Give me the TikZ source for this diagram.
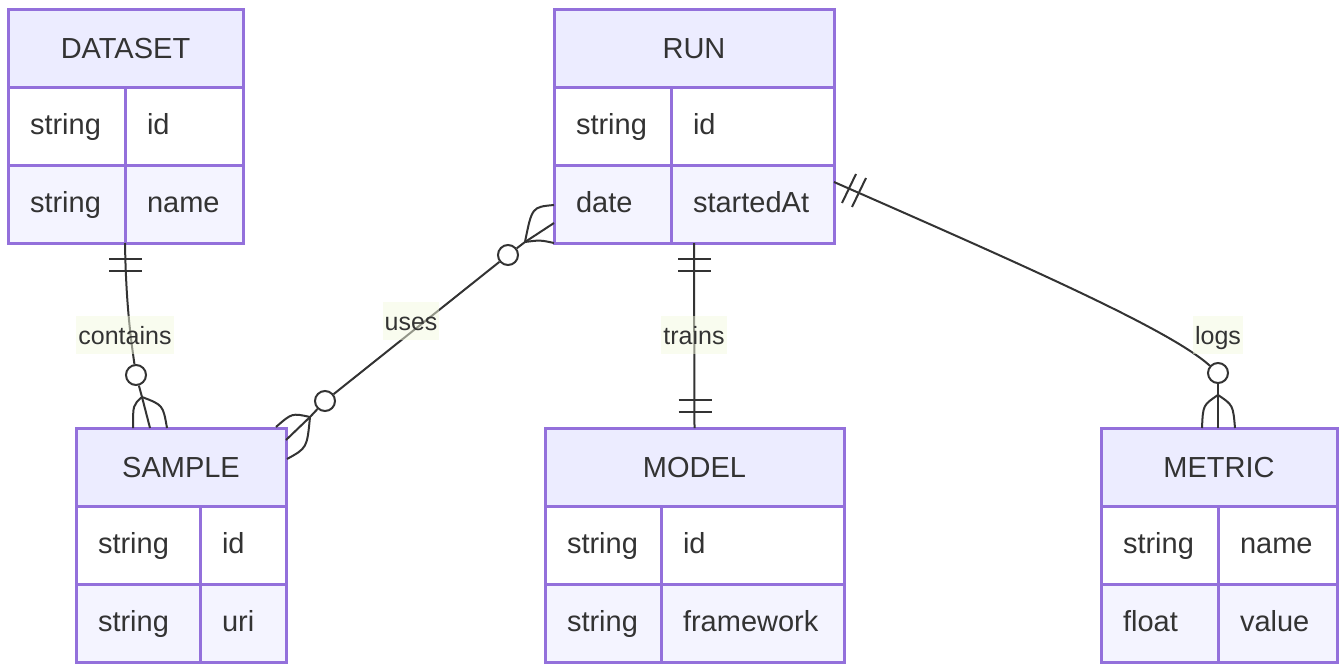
\documentclass[tikz,border=0pt]{standalone}
\usepackage{fontspec}
\setmainfont{Liberation Sans}
\usetikzlibrary{calc,positioning}
\definecolor{erborder}{HTML}{9370DB}
\definecolor{headbg}{HTML}{ECECFF}
\definecolor{roweven}{HTML}{F4F4FF}
\definecolor{inkgray}{HTML}{333333}
\definecolor{lblbg}{HTML}{F4FAE0}
\tikzset{
  erhead/.style={draw=erborder,line width=3pt,fill=headbg,anchor=north west,outer sep=0pt,
    minimum height=78pt,inner sep=0pt,text=inkgray,font=\fontsize{29}{35}\selectfont,
    text height=20pt,text depth=0pt},
  ercell/.style={draw=erborder,line width=3pt,anchor=north west,outer sep=0pt,
    minimum height=78pt,inner xsep=22pt,inner ysep=0pt,align=left,text=inkgray,
    font=\fontsize{29}{35}\selectfont,text height=20pt,text depth=4pt},
  erline/.style={draw=inkgray,line width=2pt},
  ercirc/.style={circle,draw=inkgray,line width=2pt,fill=white,minimum size=20pt,inner sep=0pt},
  erlabel/.style={fill=lblbg,fill opacity=0.5,text opacity=1,text=inkgray,inner xsep=2pt,
    minimum height=38pt,font=\fontsize{25}{30}\selectfont,text height=18pt,text depth=0pt}
}
% one entity: name, corner, type width, name width, title, two attribute rows
\newcommand{\erentity}[9]{%
  \pgfmathsetmacro\ertw{#3-44}\pgfmathsetmacro\ernw{#4-44}\pgfmathsetmacro\erall{#3+#4}%
  \node[erhead,minimum width=\erall pt] (#1) at (#2) {#5};
  \node[ercell,fill=white,text width=\ertw pt] (#1-t1) at (#1.south west) {#6};
  \node[ercell,fill=white,text width=\ernw pt] (#1-n1) at (#1-t1.north east) {#7};
  \node[ercell,fill=roweven,text width=\ertw pt] (#1-t2) at (#1-t1.south west) {#8};
  \node[ercell,fill=roweven,text width=\ernw pt] (#1-n2) at (#1-t2.north east) {#9};
}

\begin{document}
\begin{tikzpicture}[x=1pt,y=-1pt]
\useasboundingbox (0,0) rectangle (1341,664);
% entities
\erentity{dataset}{8,9}{117}{118}{DATASET}{string}{id}{string}{name}
\erentity{run}{554,9}{117}{163}{RUN}{string}{id}{date}{startedAt}
\erentity{sample}{76,428}{124}{86}{SAMPLE}{string}{id}{string}{uri}
\erentity{model}{545,428}{116}{183}{MODEL}{string}{id}{string}{framework}
\erentity{metric}{1101,428}{117}{119}{METRIC}{string}{name}{float}{value}

% DATASET contains SAMPLE
\coordinate (contains-v) at (142,397);
\node[ercirc] (contains-o) at (136,375) {};
\draw[erline] (dataset-t2.south east) .. controls (126,305) and (131,340) .. (contains-o);
\draw[erline] ($(dataset-t2.south east)+(-16,16)$) -- +(33,0);
\draw[erline] ($(dataset-t2.south east)+(-16,28)$) -- +(33,0);
\draw[erline] (contains-o) -- (contains-v) -- ($(sample.north west)+(74,0)$);
\draw[erline] (contains-v) .. controls (133,405) .. ($(sample.north west)+(57,0)$);
\draw[erline] (contains-v) .. controls (163,405) .. ($(sample.north west)+(91,0)$);

% RUN uses SAMPLE
\coordinate (uses-rv) at (525,242);
\coordinate (uses-sv) at (310,417);
\node[ercirc] (uses-ro) at (508,255) {};
\node[ercirc] (uses-so) at (325,401) {};
\draw[erline] ($(run-t2.north west)+(0,58)$) -- (uses-rv) -- (uses-ro);
\draw[erline] (uses-rv) .. controls (532,207) .. ($(run-t2.north west)+(0,40)$);
\draw[erline] (uses-rv) .. controls (540,240) .. (run-t2.south west);
\draw[erline] (uses-ro) -- (uses-so);
\draw[erline] (uses-so) -- (uses-sv) -- ($(sample.north east)+(0,12)$);
\draw[erline] (uses-sv) .. controls (292,413) .. ($(sample.north east)+(-10,-1)$);
\draw[erline] (uses-sv) .. controls (307,448) .. ($(sample.north east)+(1,31)$);

% RUN trains MODEL
\coordinate (trains-a) at ($(run-t2.south west)!0.5!(run-n2.south east)$);
\draw[erline] (trains-a) -- (model.north);
\draw[erline] ($(trains-a)+(-16,16)$) -- +(33,0);
\draw[erline] ($(trains-a)+(-16,28)$) -- +(33,0);
\draw[erline] ($(model.north)+(-16,-28)$) -- +(33,0);
\draw[erline] ($(model.north)+(-16,-16)$) -- +(33,0);

% RUN logs METRIC
\coordinate (logs-a) at ($(run-n2.north east)+(0,17)$);
\coordinate (logs-v) at (1218,395);
\node[ercirc] (logs-o) at (1218,373) {};
\draw[erline] (logs-a) .. controls (1030,268) and (1170,330) .. (logs-o);
\draw[erline] ($(logs-a)+(8,21)$) -- +(14,-29);
\draw[erline] ($(logs-a)+(18,25)$) -- +(14,-29);
\draw[erline] (logs-o) -- (logs-v) -- ($(metric.north)+(-1,0)$);
\draw[erline] (logs-v) .. controls (1203,405) .. ($(metric.north)+(-17,0)$);
\draw[erline] (logs-v) .. controls (1233,405) .. ($(metric.north)+(16,0)$);

% labels
\node[erlabel] (lbl-contains) at (125,335) {contains};
\node[erlabel] (lbl-uses) at (411,321) {uses};
\node[erlabel] (lbl-trains) at (694,335) {trains};
\node[erlabel] (lbl-logs) at (1218,335) {logs};
\end{tikzpicture}
\end{document}
